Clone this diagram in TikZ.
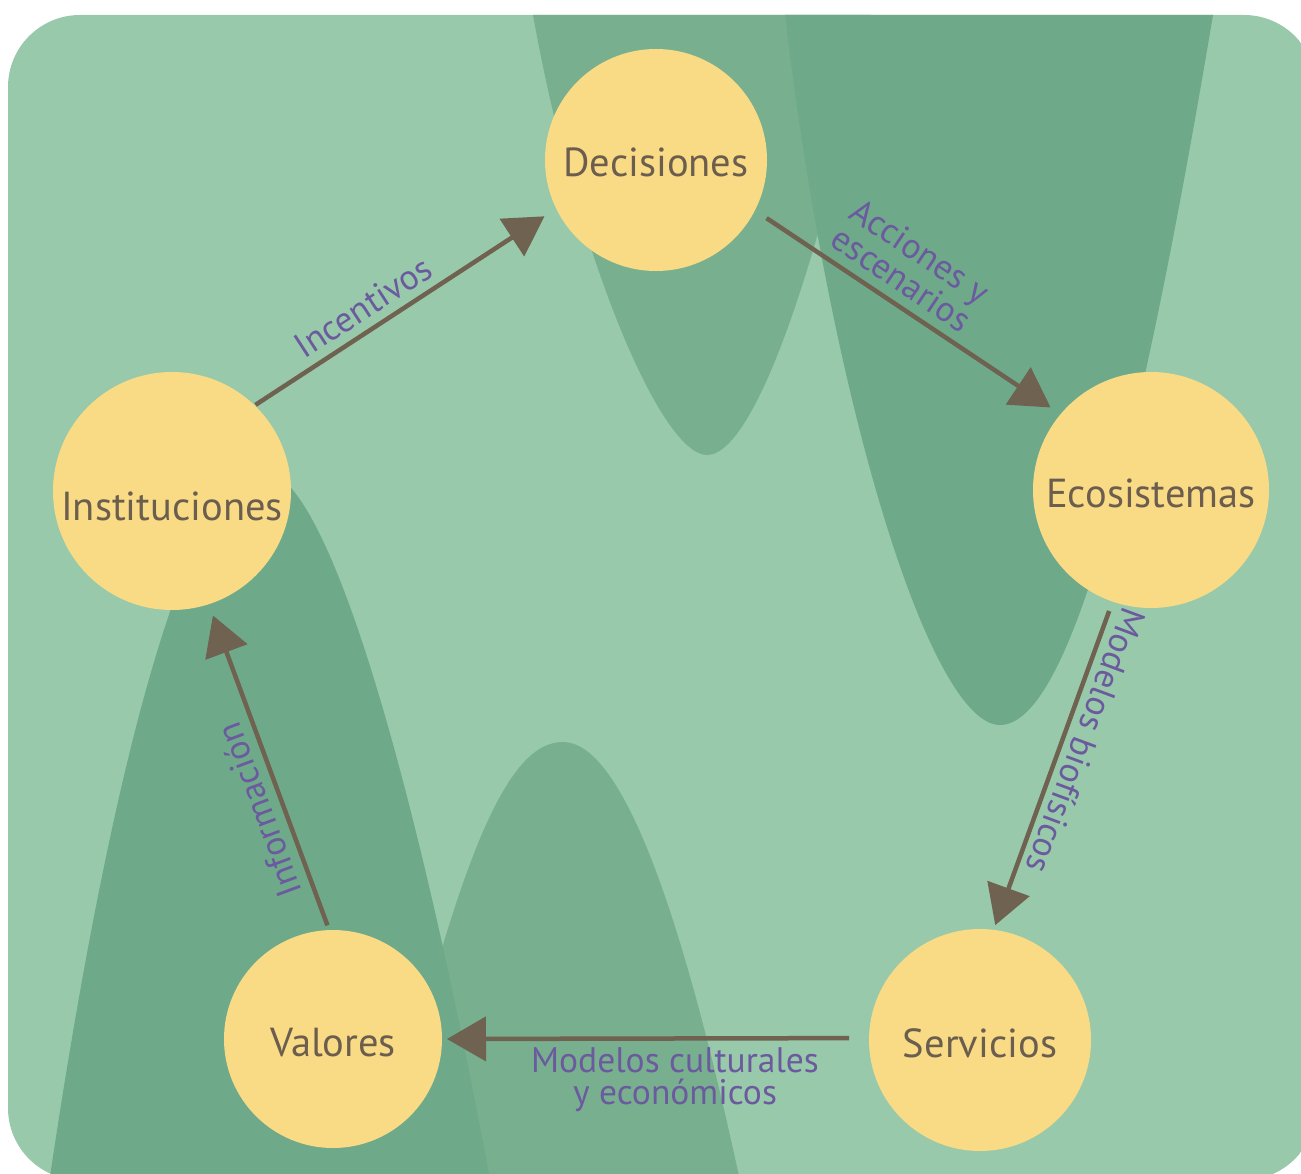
\documentclass[tikz,border=0pt]{standalone}
\usepackage{fontspec}
\setmainfont{PT Sans}
\usetikzlibrary{arrows.meta}
\definecolor{bgl}{HTML}{99C9AB}
\definecolor{bgm}{HTML}{78B08F}
\definecolor{bgd}{HTML}{6EAA8A}
\definecolor{circ}{HTML}{F9DB86}
\definecolor{ntext}{HTML}{6B5E4E}
\definecolor{arr}{HTML}{6F6250}
\definecolor{labc}{HTML}{6B5A9E}
\begin{document}
\begin{tikzpicture}[x=1pt,y=-1pt,
  stage/.style={circle, fill=circ, inner sep=0pt, outer sep=0pt},
  stext/.style={font=\fontsize{40.5}{48}\selectfont, text=ntext, inner sep=0pt},
  flow/.style={draw=arr, line width=4.5pt, -{Triangle[length=39pt,width=44pt]}},
  lbl/.style={font=\fontsize{35.5}{32}\selectfont, text=labc, align=center, inner sep=0pt}]
\useasboundingbox (0,0) rectangle (1301,1174);
\begin{scope}
\clip[rounded corners=72pt] (8,15) rectangle (1316,1180);
\fill[bgl] (0,0) rectangle (1316,1183);
\fill[bgm] (533,15) .. controls (575,250) and (660,455) .. (707,455) .. controls (760,455) and (830,220) .. (870,15) -- (870,0) -- (533,0) -- cycle;
\fill[bgd] (785,15) .. controls (830,400) and (930,725) .. (1000,725) .. controls (1070,725) and (1140,450) .. (1213,15) -- (1213,0) -- (785,0) -- cycle;
\fill[bgm] (380,1190) .. controls (460,840) and (510,742) .. (563,742) .. controls (620,742) and (680,900) .. (742,1190) -- cycle;
\fill[bgd] (48,1190) .. controls (120,700) and (200,470) .. (262,470) .. controls (330,470) and (420,800) .. (492,1190) -- cycle;
\end{scope}

\node[stage, minimum size=222pt, label={[stext, yshift=-2pt]center:Decisiones}] (dec) at (656,160) {};
\node[stage, minimum size=236pt, label={[stext, yshift=-3pt]center:Ecosistemas}] (eco) at (1151,490) {};
\node[stage, minimum size=238pt, label={[stext, yshift=-15pt]center:Instituciones}] (inst) at (172,491) {};
\node[stage, minimum size=218pt, label={[stext, yshift=-4pt]center:Valores}] (val) at (333,1039) {};
\node[stage, minimum size=222pt, label={[stext, yshift=-3pt]center:Servicios}] (serv) at (980,1040) {};

\draw[flow, shorten <=1pt, shorten >=14pt] (inst.46) -- (dec.206.8);
\draw[flow, shorten <=14pt, shorten >=12pt] (dec.333.6) -- (eco.140.3);
\draw[flow, shorten <=10pt, shorten >=5pt] (eco.251.3) -- (serv.83.6);
\draw[flow, shorten <=20pt, shorten >=5pt] (serv.179.1) -- (val.0.5);
\draw[flow, shorten <=5pt, shorten >=12pt] (val.92.5) -- (inst.288.3);

\node[lbl, rotate=33.1] (l1) at (363,307) {Incentivos};
\node[lbl, rotate=-34] (l2) at (911,265) {Acciones y\\escenarios};
\node[lbl, rotate=-110.4] (l3) at (1086,741) {Modelos biofísicos};
\node[lbl] (l4) at (675,1080) {Modelos culturales\\y económicos};
\node[lbl, rotate=110.4] (l5) at (259,810) {Información};
\end{tikzpicture}
\end{document}
